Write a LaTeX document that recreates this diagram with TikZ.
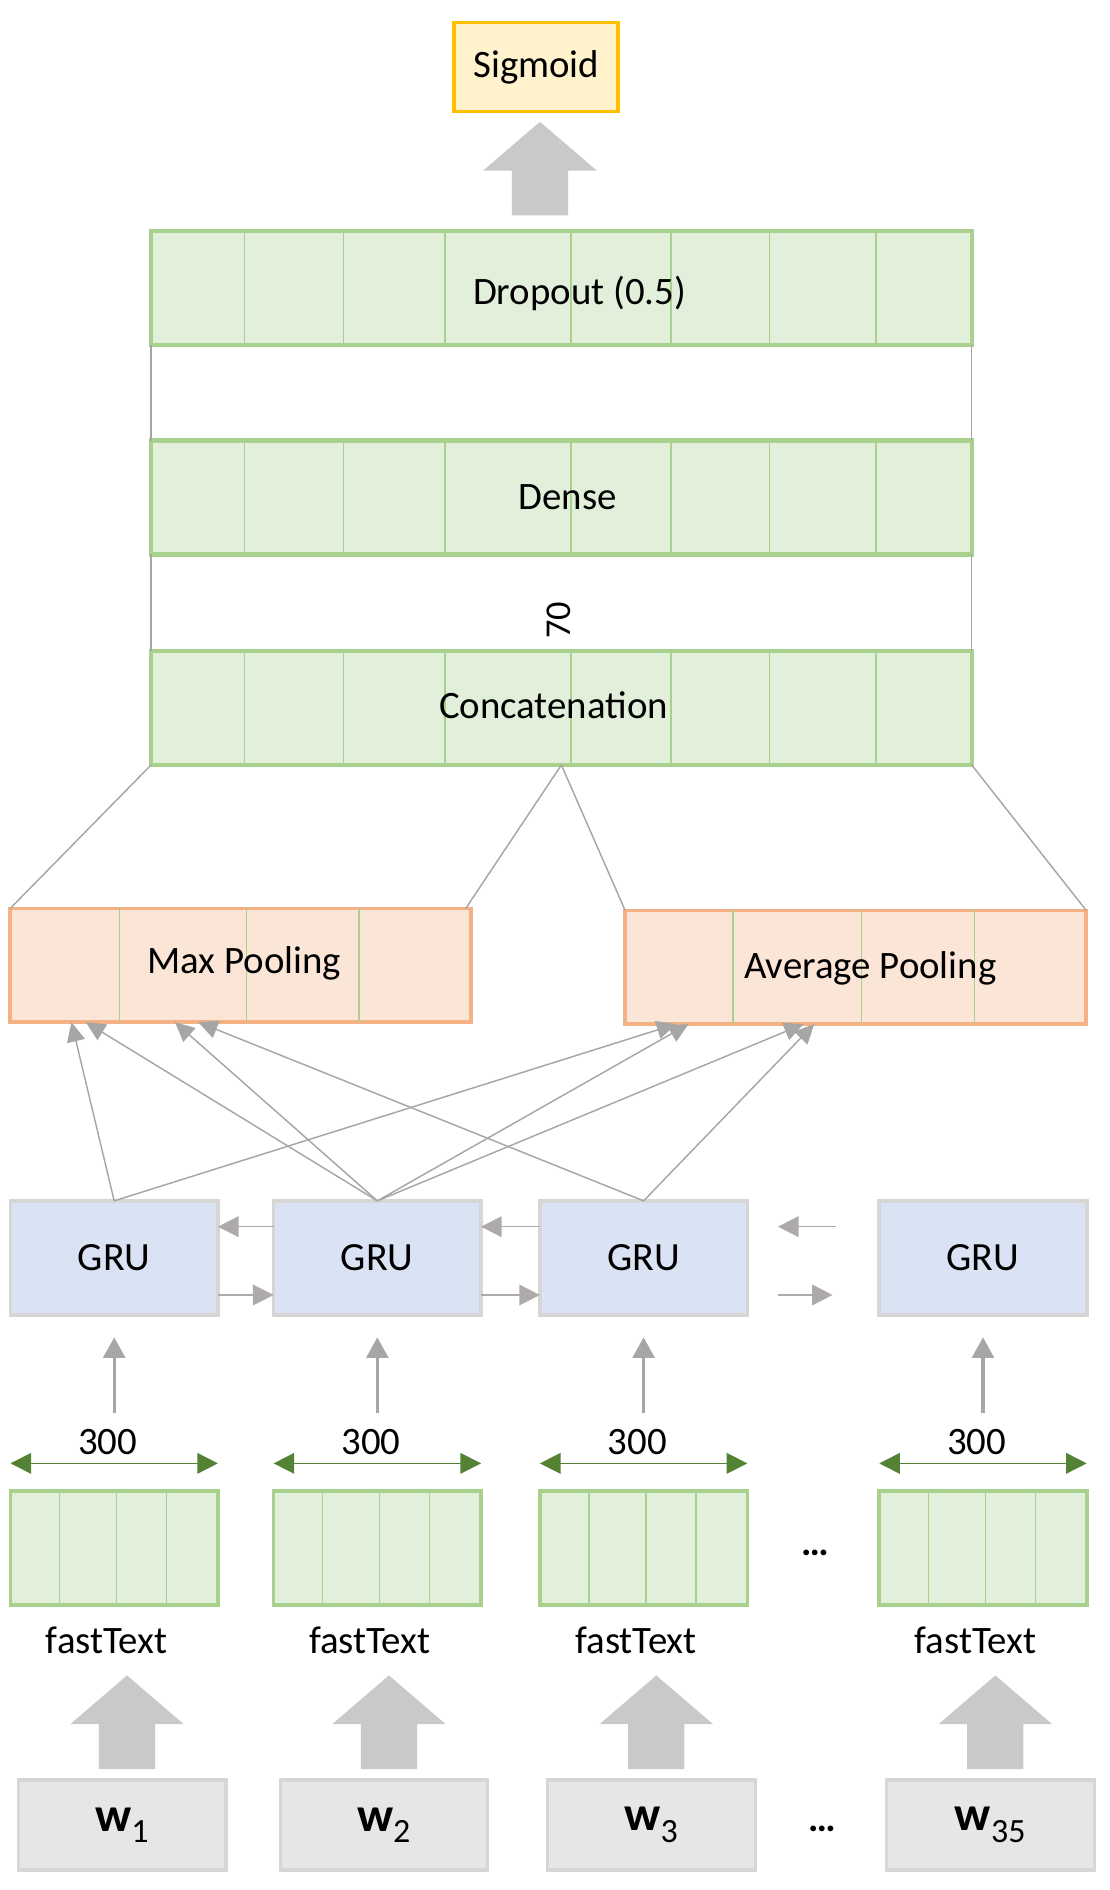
\documentclass[tikz,border=0pt]{standalone}
\usepackage{fontspec}
\setmainfont{Carlito}
\usepackage{xcolor}
\usepackage{tikz}
\usetikzlibrary{shapes,arrows,arrows.meta}
\definecolor{layerfill}{HTML}{E2EFDA}
\definecolor{layerline}{HTML}{A9D18E}
\definecolor{poolfill}{HTML}{FBE5D6}
\definecolor{poolline}{HTML}{F4B183}
\definecolor{grufill}{HTML}{DAE3F3}
\definecolor{boxline}{HTML}{D6D6D6}
\definecolor{wordfill}{HTML}{E6E6E6}
\definecolor{sigfill}{HTML}{FFF2CC}
\definecolor{sigline}{HTML}{FFC000}
\definecolor{arrowgray}{HTML}{C9C9C9}
\definecolor{linegray}{HTML}{A6A6A6}
\definecolor{grugray}{HTML}{AEAAAA}
\definecolor{dimgreen}{HTML}{548235}
\tikzstyle{layer} = [rectangle, draw=layerline, fill=layerfill, line width=3.5pt,
    minimum width=676.4pt, minimum height=93.8pt, inner sep=0pt, outer sep=0pt]
\tikzstyle{pool} = [rectangle, draw=poolline, fill=poolfill, line width=3pt,
    minimum width=380.1pt, minimum height=93.7pt, inner sep=0pt, outer sep=0pt]
\tikzstyle{gru} = [rectangle, draw=boxline, fill=grufill, line width=3pt,
    minimum width=171pt, minimum height=94pt, outer sep=0pt, font=\fontsize{33}{40}\selectfont]
\tikzstyle{embed} = [rectangle, draw=layerline, fill=layerfill, line width=3pt,
    minimum width=171pt, minimum height=93.9pt, outer sep=0pt]
\tikzstyle{word} = [rectangle, draw=boxline, fill=wordfill, line width=2.7pt,
    minimum width=171pt, minimum height=74.2pt, outer sep=0pt, font=\fontsize{40}{48}\selectfont]
\tikzstyle{sigbox} = [rectangle, draw=sigline, fill=sigfill, line width=3pt,
    minimum width=135pt, minimum height=73.4pt, outer sep=0pt, font=\fontsize{32}{38}\selectfont]
\tikzstyle{bigarrow} = [single arrow, fill=arrowgray, rotate=90, minimum height=77.2pt,
    inner xsep=0pt, inner ysep=23pt, single arrow head extend=23.6pt,
    single arrow tip angle=98.7, anchor=tail]
\tikzstyle{lbl} = [inner sep=0pt, font=\fontsize{32}{38}\selectfont]
\tikzstyle{cell} = [draw=layerline, line width=1.2pt]
\tikzstyle{line} = [draw=linegray, line width=1.2pt]
\tikzstyle{arrow} = [draw=linegray, line width=1.2pt, -{Triangle[length=16pt,width=15pt]}]
\tikzstyle{gruarrow} = [draw=grugray, line width=1.3pt, -{Triangle[length=17pt,width=17pt]}]
\tikzstyle{varrow} = [draw=linegray, line width=2.8pt, -{Triangle[length=17pt,width=18pt]}]
\tikzstyle{dimarrow} = [draw=dimgreen, line width=1.3pt,
    {Triangle[length=17pt,width=17pt]}-{Triangle[length=17pt,width=17pt]}]

\begin{document}
\begin{tikzpicture}[x=1pt, y=-1pt, node distance=216.9pt, auto]
			\useasboundingbox (0,0) rectangle (915,1558);
			% 
			\node [sigbox] (sigmoid) at (442,55.2) {Sigmoid};
			\node [below of=sigmoid, node distance=122.6pt, xshift=3.1pt, bigarrow] (outArrow) {};
			\node [layer, below of=sigmoid, node distance=182.05pt, xshift=20.75pt] (dropout) {};
			\node [layer, below of=dropout, node distance=172.85pt] (dense) {};
			\node [layer, below of=dense, node distance=173.55pt] (concat) {};
			
			\node [pool, below of=concat, node distance=212.1pt, xshift=-264.3pt] (maxpool) {};
			\node [pool, right of=maxpool, node distance=506.9pt, yshift=-1.55pt] (avgpool) {};
			
			\node [gru, below of=maxpool, node distance=241.15pt, xshift=-104.3pt] (gru1) {GRU};
			\node [gru, right of=gru1] (gru2) {GRU};
			\node [gru, right of=gru2, node distance=219.5pt] (gru3) {GRU};
			\node [gru, right of=gru3, node distance=279.75pt] (gru4) {GRU};
			
			\node [embed, below of=gru1, node distance=239.05pt] (emb1) {};
			\node [embed, right of=emb1] (emb2) {};
			\node [embed, right of=emb2, node distance=219.5pt] (emb3) {};
			\node [embed, right of=emb3, node distance=279.75pt] (emb4) {};
			\node [lbl, right of=emb3, node distance=141.15pt, yshift=-4pt] (embDots) {\textbf{…}};
			
			\node [lbl, below of=emb1, node distance=75.95pt, xshift=-6.2pt] (ft1) {fastText};
			\node [lbl, below of=emb2, node distance=75.95pt, xshift=-6.2pt] (ft2) {fastText};
			\node [lbl, below of=emb3, node distance=75.95pt, xshift=-6.2pt] (ft3) {fastText};
			\node [lbl, below of=emb4, node distance=75.95pt, xshift=-6.2pt] (ft4) {fastText};
			
			\node [word, below of=emb1, node distance=228.5pt, xshift=6.55pt] (word1) {\textbf{w}\textsubscript{1}};
			\node [word, right of=word1, node distance=215.9pt] (word2) {\textbf{w}\textsubscript{2}};
			\node [word, right of=word2, node distance=220.4pt] (word3) {\textbf{w}\textsubscript{3}};
			\node [word, right of=word3, node distance=279.5pt] (word4) {\textbf{w}\textsubscript{35}};
			\node [lbl, right of=word3, node distance=140.6pt, yshift=-3pt] (wordDots) {\textbf{…}};
			
			\node [above of=word1, node distance=45.95pt, xshift=4pt, bigarrow] (in1) {};
			\node [above of=word2, node distance=45.95pt, xshift=4pt, bigarrow] (in2) {};
			\node [above of=word3, node distance=45.95pt, xshift=4pt, bigarrow] (in3) {};
			\node [above of=word4, node distance=45.95pt, xshift=4pt, bigarrow] (in4) {};
			
			% cells
			\foreach \n in {dropout,dense,concat}
				\foreach \x in {77.15,158.45,242.25,346.15,428.55,509.75,597.45}
					\draw [cell] ([xshift=\x pt]\n.north west) -- ([xshift=\x pt]\n.south west);
			\foreach \x in {90,194.9,287.6}
				\draw [cell] ([xshift=\x pt]maxpool.north west) -- ([xshift=\x pt]maxpool.south west);
			\foreach \x in {89.1,194.9,287.9}
				\draw [cell] ([xshift=\x pt]avgpool.north west) -- ([xshift=\x pt]avgpool.south west);
			\foreach \n in {emb1,emb2,emb3,emb4}
				\foreach \x in {40.5,87.4,128.7}
					\draw [cell] ([xshift=\x pt]\n.north west) -- ([xshift=\x pt]\n.south west);
			
			\node [lbl, xshift=15pt, yshift=-4.5pt] (dropoutTxt) at (dropout) {Dropout (0.5)};
			\node [lbl, xshift=5.25pt] (denseTxt) at (dense) {Dense};
			\node [lbl, xshift=-6.45pt, yshift=2.35pt] (concatTxt) at (concat) {Concatenation};
			\node [lbl, below of=dense, node distance=101.4pt, xshift=-2.05pt, rotate=90,
				font=\fontsize{30}{36}\selectfont] (size70) {70};
			\node [lbl, xshift=2.85pt, yshift=1.65pt] (maxTxt) at (maxpool) {Max Pooling};
			\node [lbl, xshift=12pt, yshift=-1pt] (avgTxt) at (avgpool) {Average Pooling};

			% Draw edges
			\path [line] (dropout.south west) -- (dense.north west);
			\path [line] (dropout.south east) -- (dense.north east);
			\path [line] (dense.south west) -- (concat.north west);
			\path [line] (dense.south east) -- (concat.north east);
			
			\path [line] (concat.south west) -- (maxpool.north west);
			\path [line] (concat.south) -- ([xshift=-4.6pt]maxpool.north east);
			\path [line] (concat.south) -- (avgpool.north west);
			\path [line] (concat.south east) -- (avgpool.north east);
			
			\path [arrow] (gru1.north) -- ([xshift=50.5pt]maxpool.south west);
			\path [arrow] (gru1.north) -- ([xshift=42.1pt]avgpool.south west);
			\path [arrow] (gru2.north) -- ([xshift=62.3pt]maxpool.south west);
			\path [arrow] (gru2.north) -- ([xshift=135.8pt]maxpool.south west);
			\path [arrow] (gru2.north) -- ([xshift=52.3pt]avgpool.south west);
			\path [arrow] (gru2.north) -- ([xshift=147.1pt]avgpool.south west);
			\path [arrow] (gru3.north) -- ([xshift=155pt]maxpool.south west);
			\path [arrow] (gru3.north) -- ([xshift=155.9pt]avgpool.south west);
			
			\path [gruarrow] ([yshift=25.7pt]gru2.west) -- ([yshift=25.7pt]gru1.east);
			\path [gruarrow] ([yshift=25.7pt]gru3.west) -- ([yshift=25.7pt]gru2.east);
			\path [gruarrow] ([xshift=-35.5pt, yshift=25.7pt]gru4.west) -- ([xshift=25.25pt, yshift=25.7pt]gru3.east);
			\path [gruarrow] ([yshift=-30.6pt]gru1.east) -- ([yshift=-30.6pt]gru2.west);
			\path [gruarrow] ([yshift=-30.6pt]gru2.east) -- ([yshift=-30.6pt]gru3.west);
			\path [gruarrow] ([xshift=25.25pt, yshift=-30.6pt]gru3.east) -- ([xshift=-38.4pt, yshift=-30.6pt]gru4.west);
			
			\path [varrow] ([yshift=63.9pt]emb1.north) -- ([yshift=-18.5pt]gru1.south);
			\path [varrow] ([yshift=63.9pt]emb2.north) -- ([yshift=-18.5pt]gru2.south);
			\path [varrow] ([yshift=63.9pt]emb3.north) -- ([yshift=-18.5pt]gru3.south);
			\path [varrow] ([yshift=63.9pt]emb4.north) -- ([yshift=-18.5pt]gru4.south);
			
			\path [dimarrow] ([yshift=22.7pt]emb1.north west) -- node [lbl, above=6.4pt, xshift=-5.3pt] (dim1) {300} ([yshift=22.7pt]emb1.north east);
			\path [dimarrow] ([yshift=22.7pt]emb2.north west) -- node [lbl, above=6.4pt, xshift=-5.3pt] (dim2) {300} ([yshift=22.7pt]emb2.north east);
			\path [dimarrow] ([yshift=22.7pt]emb3.north west) -- node [lbl, above=6.4pt, xshift=-5.3pt] (dim3) {300} ([yshift=22.7pt]emb3.north east);
			\path [dimarrow] ([yshift=22.7pt]emb4.north west) -- node [lbl, above=6.4pt, xshift=-5.3pt] (dim4) {300} ([yshift=22.7pt]emb4.north east);
%
	\end{tikzpicture}
\end{document}
